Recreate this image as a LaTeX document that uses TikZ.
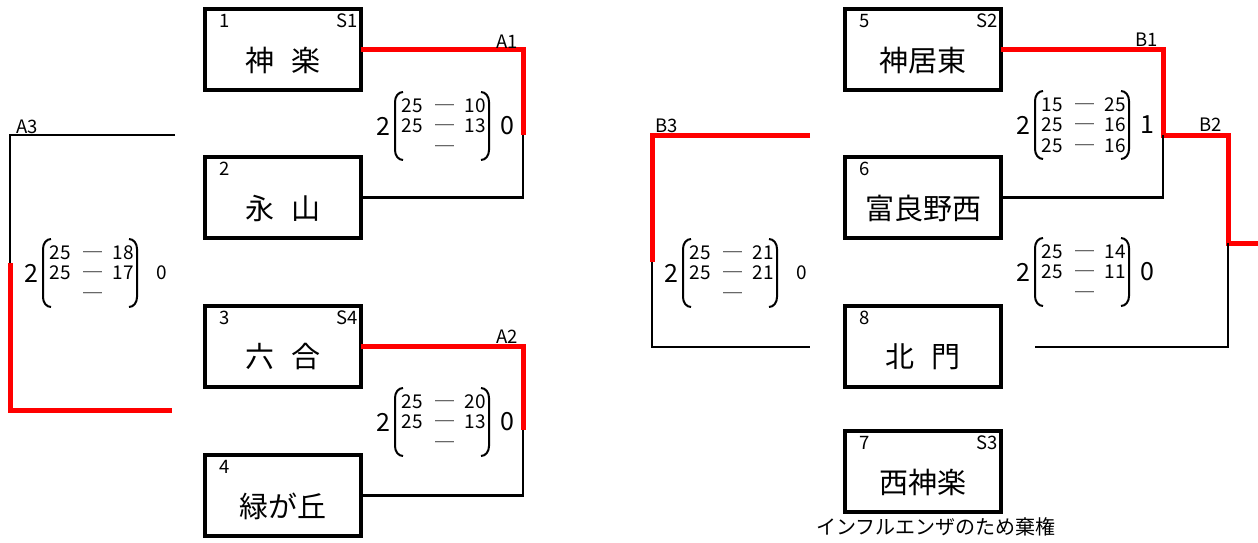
\documentclass[tikz,border=0pt]{standalone}
\usepackage{fontspec}
\setmainfont{Noto Sans CJK JP}
\usepackage{tikz}
\usetikzlibrary{calc}

\tikzset{
  team/.style={draw,line width=4pt,minimum width=156pt,minimum height=81pt,inner sep=0pt,outer sep=0pt},
  tname/.style={font=\fontsize{29pt}{29pt}\selectfont,inner sep=0pt},
  seedtag/.style={font=\fontsize{18.5pt}{18.5pt}\selectfont,inner sep=0pt},
  sc/.style={font=\fontsize{19pt}{19pt}\selectfont,inner sep=0pt},
  total/.style={font=\fontsize{25pt}{25pt}\selectfont,inner sep=0pt},
  win/.style={red,line width=5pt},
  lose/.style={black,line width=2.5pt},
  paren/.style={line width=2pt}
}

% team box: name, position, number, school, seed
\newcommand\teambox[5]{%
  \node[team] (#1) at (#2) {};
  \node[tname] (#1-n) at ([yshift=-10.5pt]#1.center) {#4};
  \node[seedtag] (#1-i) at ([xshift=20pt,yshift=-12pt]#1.north west) {#3};
  \node[seedtag,anchor=east] (#1-s) at ([xshift=-3pt,yshift=-12pt]#1.north east) {#5};}

% set scores: name, x, y, left, rows, right, style, right x
\newcommand\bout[8]{%
  \begin{scope}[shift={(#2,#3)}]
    \node[total] (#1-l) at (-12,0) {#4};
    \foreach \a/\b [count=\i] in {#5}{
      \node[sc,anchor=base] (#1-a\i) at (17,{(\i-2)*20.5+6.5}) {\a};
      \node[sc,anchor=base] (#1-d\i) at (50,{(\i-2)*20.5+6.5}) {─};
      \node[sc,anchor=base east] (#1-b\i) at (91,{(\i-2)*20.5+6.5}) {\b};
    }
    \draw[paren](8,-34) to[out=180,in=90] (0,-24) -- (0,24) to[out=270,in=180] (8,34);
    \draw[paren](86,-34) to[out=0,in=90] (94,-24) -- (94,24) to[out=270,in=0] (86,34);
    \node[#7] (#1-r) at (#8,0) {#6};
  \end{scope}}

\begin{document}
\begin{tikzpicture}[x=1pt,y=-1pt]
\useasboundingbox (0,0) rectangle (1258,542);

% teams
\teambox{t1}{283,49.5}{1}{神\hspace{.6em}楽}{S1}
\teambox{t2}{283,197.5}{2}{永\hspace{.6em}山}{}
\teambox{t3}{283,346.5}{3}{六\hspace{.6em}合}{S4}
\teambox{t4}{283,495.5}{4}{緑が丘}{}
\teambox{t5}{923,49.5}{5}{神居東}{S2}
\teambox{t6}{923,197.5}{6}{富良野西}{}
\teambox{t8}{923,346}{8}{北\hspace{.6em}門}{}
\teambox{t7}{923,471.5}{7}{西神楽}{S3}
\node[font=\fontsize{20pt}{20pt}\selectfont,inner sep=0pt] (t7-x) at (936,527) {インフルエンザのため棄権};

% block A
\coordinate (a1) at (523,135);
\coordinate (a2) at (523,430);
\coordinate (a3) at (10,263);
\coordinate (a3u) at (175,135);
\coordinate (a3d) at (172,410);
\draw[win] (t1.east) -| (a1);
\draw[lose] (a1) |- (t2.east);
\draw[win] (t3.east) -| (a2);
\draw[lose] (a2) |- (t4.east);
\draw[lose] (a3u) -| (a3);
\draw[win] (a3) |- (a3d);
\node[seedtag] (a1t) at (507,42) {A1};
\node[seedtag] (a2t) at (507,337) {A2};
\node[seedtag] (a3t) at (27,127) {A3};

% block B
\coordinate (b1) at (1163,135);
\coordinate (b2) at (1228,243);
\coordinate (b2o) at (1258,243);
\coordinate (b2d) at (1035,347);
\coordinate (b3) at (652,262);
\coordinate (b3u) at (810,135);
\coordinate (b3d) at (810,347);
\draw[win] (t5.east) -| (b1) -| (b2) -- (b2o);
\draw[lose] (b1) |- (t6.east);
\draw[lose] (b2) |- (b2d);
\draw[win] (b3u) -| (b3);
\draw[lose] (b3) |- (b3d);
\node[seedtag] (b1t) at (1147,40) {B1};
\node[seedtag] (b2t) at (1211,125) {B2};
\node[seedtag] (b3t) at (667,126) {B3};

% scores
\bout{s1}{395}{126}{2}{25/10,25/13,{}/{}}{0}{total}{112}
\bout{s2}{395}{422}{2}{25/20,25/13,{}/{}}{0}{total}{112}
\bout{s3}{43}{273}{2}{25/18,25/17,{}/{}}{0}{sc}{119}
\bout{s4}{683}{273}{2}{25/21,25/21,{}/{}}{0}{sc}{119}
\bout{s5}{1035}{125}{2}{15/25,25/16,25/16}{1}{total}{112}
\bout{s6}{1035}{272}{2}{25/14,25/11,{}/{}}{0}{total}{112}
\end{tikzpicture}
\end{document}
